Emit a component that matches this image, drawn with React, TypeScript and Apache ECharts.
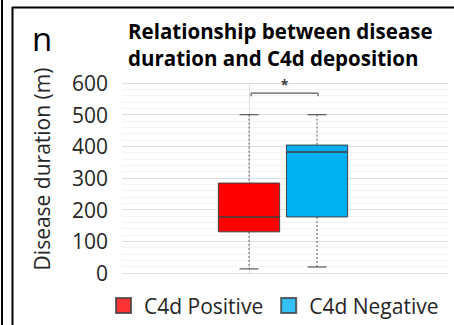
import React, { useEffect, useRef } from "react";
import * as echarts from "echarts";

const categories = ["C4d Positive", "C4d Negative"];
const positiveBox = [13, 130, 177, 284, 500]; // min, Q1, median, Q3, max
const negativeBox = [19, 177, 382, 404, 500];
const boxColors = ["#FF0000", "#00B0F0"];
const yTicks = [0, 100, 200, 300, 400, 500, 600];
const bracketValue = 568;
const bracketLabel = "*";
const titleLines = ["Relationship between disease", "duration and C4d deposition"];
const panelLetter = "n";
const yAxisName = "Disease duration (m)";

const FONT = "'Open Sans', 'DejaVu Sans', sans-serif";

export default function App() {
  const ref = useRef<HTMLDivElement>(null);
  useEffect(() => {
    if (!ref.current) return;
    const chart = echarts.init(ref.current, undefined, { renderer: "svg" });
    const boxes = [positiveBox, negativeBox];
    const boxData = categories.map((c, i) => [i, ...boxes[i]]);

    const option: any = {
      animation: false,
      backgroundColor: "#ffffff",
      textStyle: { fontFamily: FONT },
      title: {
        text: titleLines.join("\n"),
        left: 123,
        top: 12,
        textStyle: {
          fontFamily: FONT,
          fontSize: 20.5,
          fontWeight: "bold",
          color: "#000",
          lineHeight: 27,
        },
      },
      legend: {
        data: categories,
        left: 110,
        top: 290,
        icon: "rect",
        itemWidth: 15,
        itemHeight: 15,
        itemGap: 17,
        textStyle: { fontFamily: FONT, fontSize: 21, color: "#262626", padding: [0, 0, 0, 8] },
      },
      grid: { left: 122, right: 6, top: 83, bottom: 52 },
      xAxis: {
        type: "value",
        min: -1.868,
        max: 2.926,
        show: false,
        splitLine: { show: false },
      },
      yAxis: {
        type: "value",
        min: 0,
        max: 600,
        interval: 100,
        name: yAxisName,
        nameLocation: "middle",
        nameRotate: 90,
        nameGap: 70,
        nameTextStyle: { fontFamily: FONT, fontSize: 21, color: "#262626", padding: [0, 0, 0, 18] },
        axisLine: { show: true, lineStyle: { color: "#dedede", width: 1 } },
        axisTick: { show: false },
        axisLabel: {
          fontFamily: FONT,
          fontSize: 21,
          color: "#262626",
          margin: 14,
          customValues: yTicks,
        },
        splitLine: { show: true, lineStyle: { color: "#dedede", width: 1 } },
        minorTick: { show: false, splitNumber: 5 },
        minorSplitLine: { show: true, lineStyle: { color: "#f3f3f3", width: 1 } },
      },
      graphic: [
        { type: "line", shape: { x1: 2, y1: 0, x2: 2, y2: 325 }, style: { stroke: "#000", lineWidth: 2 } },
        { type: "line", shape: { x1: 12.5, y1: 7, x2: 12.5, y2: 325 }, style: { stroke: "#000", lineWidth: 2 } },
        { type: "line", shape: { x1: 12, y1: 7.5, x2: 454, y2: 7.5 }, style: { stroke: "#000", lineWidth: 2 } },
        {
          type: "text",
          left: 32,
          top: 22,
          style: { text: panelLetter, fontFamily: FONT, fontSize: 33, fill: "#000" },
        },
      ],
      series: [
        {
          type: "custom",
          name: "box",
          data: boxData,
          encode: { x: 0, y: [1, 2, 3, 4, 5] },
          renderItem: (params: any, api: any) => {
            const idx = api.value(0);
            const vals = [1, 2, 3, 4, 5].map((d) => api.value(d));
            const pts = vals.map((v) => api.coord([idx, v]));
            const cx = pts[0][0];
            const unit = api.size([1, 0])[0];
            const halfW = unit * 0.45;
            const capHalf = 9.5;
            const yMin = pts[0][1], yQ1 = pts[1][1], yMed = pts[2][1], yQ3 = pts[3][1], yMax = pts[4][1];
            const wStyle = { stroke: "#595959", lineWidth: 1, lineDash: [2, 2] };
            const cStyle = { stroke: "#595959", lineWidth: 1.2 };
            return {
              type: "group",
              children: [
                { type: "line", shape: { x1: cx, y1: yMax, x2: cx, y2: yQ3 }, style: wStyle },
                { type: "line", shape: { x1: cx, y1: yQ1, x2: cx, y2: yMin }, style: wStyle },
                { type: "line", shape: { x1: cx - capHalf, y1: yMax, x2: cx + capHalf, y2: yMax }, style: cStyle },
                { type: "line", shape: { x1: cx - capHalf, y1: yMin, x2: cx + capHalf, y2: yMin }, style: cStyle },
                {
                  type: "rect",
                  shape: { x: cx - halfW, y: yQ3, width: halfW * 2, height: yQ1 - yQ3 },
                  style: { fill: boxColors[params.dataIndex], stroke: "#404040", lineWidth: 1 },
                },
                {
                  type: "line",
                  shape: { x1: cx - halfW, y1: yMed, x2: cx + halfW, y2: yMed },
                  style: { stroke: "#404040", lineWidth: 1.5 },
                },
              ],
            };
          },
          z: 3,
        },
        {
          type: "custom",
          name: "bracket",
          data: [[0, 1, bracketValue]],
          encode: { x: [0, 1], y: 2 },
          renderItem: (params: any, api: any) => {
            const p0 = api.coord([api.value(0), api.value(2)]);
            const p1 = api.coord([api.value(1), api.value(2)]);
            const x0 = p0[0] + 2, x1 = p1[0] + 1, y = p0[1];
            const s = { stroke: "#595959", lineWidth: 1.2 };
            return {
              type: "group",
              children: [
                { type: "line", shape: { x1: x0, y1: y, x2: x1, y2: y }, style: s },
                { type: "line", shape: { x1: x0, y1: y, x2: x0, y2: y + 3 }, style: s },
                { type: "line", shape: { x1: x1, y1: y, x2: x1, y2: y + 3 }, style: s },
                {
                  type: "text",
                  x: (x0 + x1) / 2,
                  y: y - 2,
                  style: {
                    text: bracketLabel,
                    fontFamily: FONT,
                    fontSize: 14,
                    fontWeight: "bold",
                    fill: "#404040",
                    align: "center",
                    verticalAlign: "bottom",
                  },
                },
              ],
            };
          },
          z: 3,
        },
        {
          type: "scatter",
          name: categories[0],
          data: [],
          itemStyle: { color: boxColors[0], borderColor: "#404040", borderWidth: 0.8 },
        },
        {
          type: "scatter",
          name: categories[1],
          data: [],
          itemStyle: { color: boxColors[1], borderColor: "#404040", borderWidth: 0.8 },
        },
      ],
    };
    chart.setOption(option);
    return () => chart.dispose();
  }, []);
  return (
    <div
      ref={ref}
      style={{ position: "fixed", left: 0, top: 0, width: 454, height: 325 }}
    />
  );
}
